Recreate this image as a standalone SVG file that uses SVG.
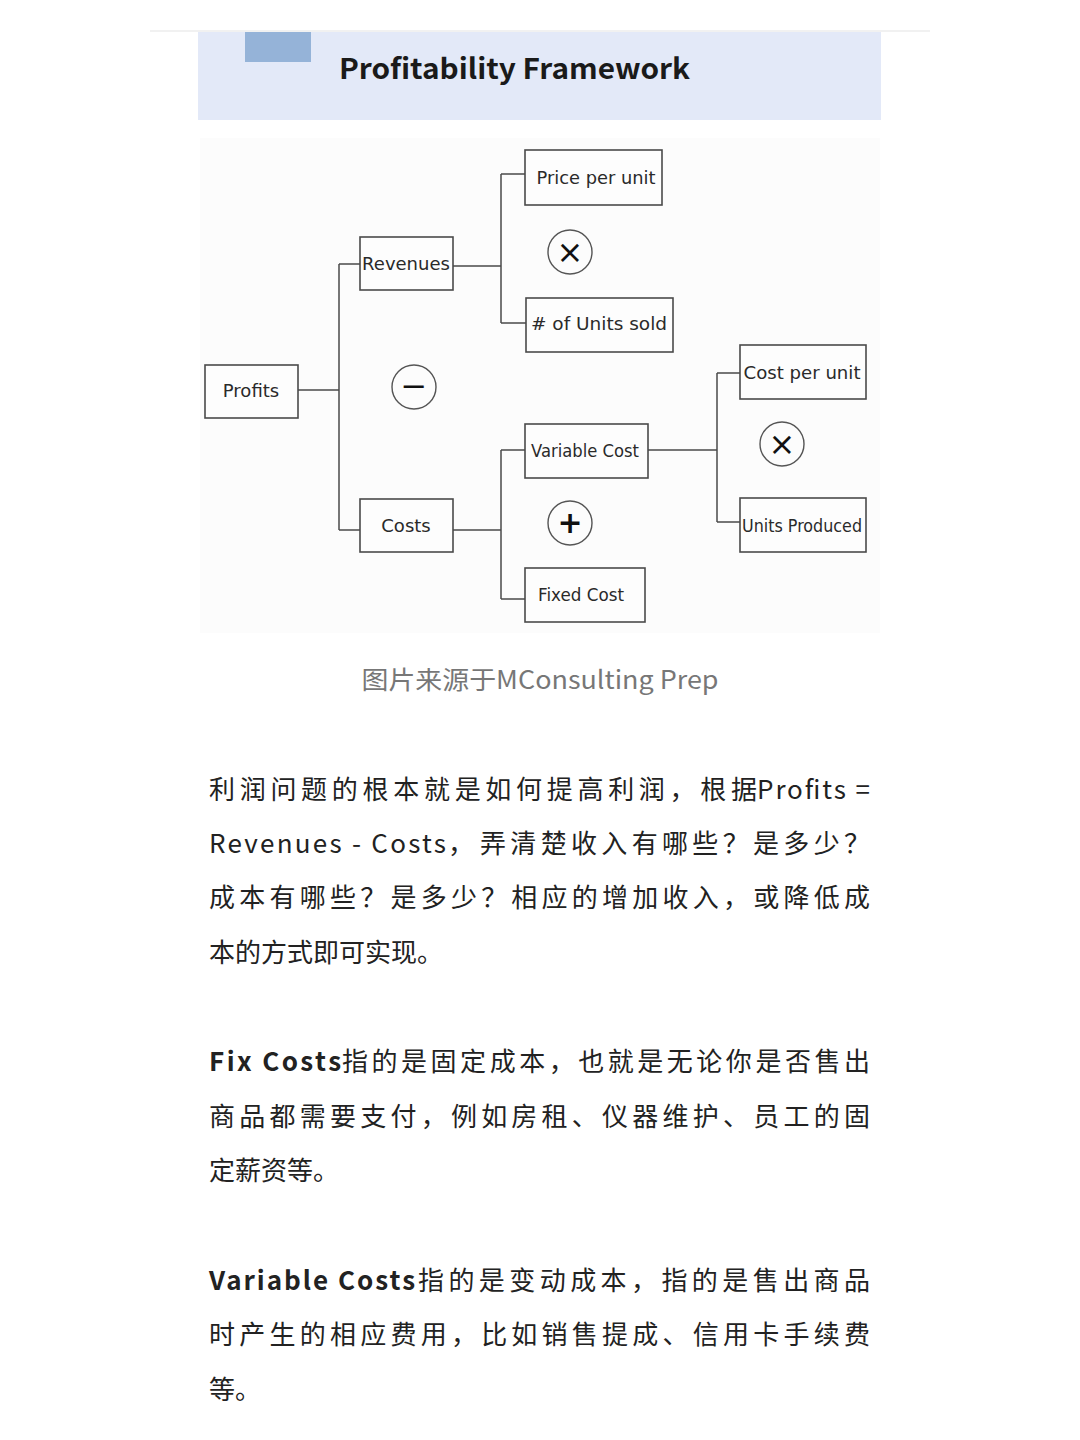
<svg xmlns="http://www.w3.org/2000/svg" width="1080" height="1440" viewBox="0 0 1080 1440">
<style>
.box{fill:#fdfdfd;stroke:#4a4a4a;stroke-width:1.6}
.lbl{font-family:"DejaVu Sans","Liberation Sans",sans-serif;font-size:18px;fill:#2a2a2a;text-anchor:middle;dominant-baseline:central}
.op{fill:none;stroke:#555;stroke-width:1.4}
.opt{font-family:"DejaVu Sans",sans-serif;fill:#111;text-anchor:middle;dominant-baseline:central}
.conn{fill:none;stroke:#4a4a4a;stroke-width:1.5}
.body{font-family:"Noto Sans CJK SC","Noto Sans",sans-serif;font-size:26px;fill:#222}
.b{font-weight:700}
.title{font-family:"Noto Sans CJK SC","Noto Sans",sans-serif;font-size:28px;font-weight:700;fill:#1a1a1a}
.cap{font-family:"Noto Sans CJK SC","Noto Sans",sans-serif;font-size:25px;fill:#777;text-anchor:middle}
</style>
<rect width="1080" height="1440" fill="#ffffff"/>
<g id="header">
<line x1="150" y1="31" x2="930" y2="31" stroke="#ececec" stroke-width="1.5"/>
<rect x="198" y="32" width="683" height="88" fill="#e3e9f8"/>
<rect x="245" y="32" width="66" height="30" fill="#95b3d8"/>
<text class="title" x="339" y="79" textLength="351" lengthAdjust="spacingAndGlyphs">Profitability Framework</text>
</g>
<rect id="diagram-bg" x="200" y="138" width="680" height="495" fill="#fcfcfc"/>
<g id="connectors">
<path class="conn" d="M298 390 H339 M339 264 V530 M339 264 H360 M339 530 H360"/>
<path class="conn" d="M453 266 H501 M501 174 V323 M501 174 H525 M501 323 H526"/>
<path class="conn" d="M453 530 H501 M501 450 V599 M501 450 H525 M501 599 H525"/>
<path class="conn" d="M648 450 H717 M717 373 V522 M717 373 H740 M717 522 H740"/>
</g>
<g id="node-profits"><rect class="box" x="205" y="365" width="93" height="53"/><text class="lbl" x="251" y="390">Profits</text></g>
<g id="node-revenues"><rect class="box" x="360" y="237" width="93" height="53"/><text class="lbl" x="406" y="263">Revenues</text></g>
<g id="node-costs"><rect class="box" x="360" y="499" width="93" height="53"/><text class="lbl" x="406" y="525">Costs</text></g>
<g id="node-price"><rect class="box" x="525" y="150" width="137" height="55"/><text class="lbl" x="596" y="177" textLength="119" lengthAdjust="spacingAndGlyphs">Price per unit</text></g>
<g id="node-units-sold"><rect class="box" x="526" y="298" width="147" height="54"/><text class="lbl" x="599" y="323" textLength="136" lengthAdjust="spacingAndGlyphs"># of Units sold</text></g>
<g id="node-variable"><rect class="box" x="525" y="424" width="123" height="54"/><text class="lbl" x="585" y="450" textLength="108" lengthAdjust="spacingAndGlyphs">Variable Cost</text></g>
<g id="node-fixed"><rect class="box" x="525" y="568" width="120" height="54"/><text class="lbl" x="581" y="594" textLength="86" lengthAdjust="spacingAndGlyphs">Fixed Cost</text></g>
<g id="node-cost-per-unit"><rect class="box" x="740" y="345" width="126" height="54"/><text class="lbl" x="802" y="372" textLength="117" lengthAdjust="spacingAndGlyphs">Cost per unit</text></g>
<g id="node-units-produced"><rect class="box" x="740" y="498" width="126" height="54"/><text class="lbl" x="802" y="525" textLength="120" lengthAdjust="spacingAndGlyphs">Units Produced</text></g>
<g id="op-times-1"><circle class="op" cx="570" cy="252" r="22"/><text class="opt" x="570" y="252" font-size="32">×</text></g>
<g id="op-minus"><circle class="op" cx="414" cy="387" r="22"/><text class="opt" x="414" y="386" font-size="32">−</text></g>
<g id="op-plus"><circle class="op" cx="570" cy="523" r="22"/><text class="opt" x="570" y="522" font-size="30" font-weight="700">+</text></g>
<g id="op-times-2"><circle class="op" cx="782" cy="444" r="22"/><text class="opt" x="782" y="444" font-size="32">×</text></g>
<text class="cap" x="540" y="689" textLength="357" lengthAdjust="spacingAndGlyphs">图片来源于MConsulting Prep</text>
<g id="paragraph-1" class="body">
<text x="209" y="799" textLength="548" lengthAdjust="spacing">利润问题的根本就是如何提高利润，根据</text>
<text x="757" y="799" textLength="113" lengthAdjust="spacing">Profits =</text>
<text x="209" y="853" textLength="237" lengthAdjust="spacing">Revenues - Costs</text>
<text x="448" y="853">，</text>
<text x="480" y="853" textLength="390" lengthAdjust="spacing">弄清楚收入有哪些？是多少？</text>
<text x="209" y="907" textLength="661" lengthAdjust="spacing">成本有哪些？是多少？相应的增加收入，或降低成</text>
<text x="209" y="962">本的方式即可实现。</text>
</g>
<g id="paragraph-2" class="body">
<text x="209" y="1071" class="b" textLength="132" lengthAdjust="spacing">Fix Costs</text>
<text x="342" y="1071" textLength="528" lengthAdjust="spacing">指的是固定成本，也就是无论你是否售出</text>
<text x="209" y="1126" textLength="661" lengthAdjust="spacing">商品都需要支付，例如房租、仪器维护、员工的固</text>
<text x="209" y="1180">定薪资等。</text>
</g>
<g id="paragraph-3" class="body">
<text x="209" y="1290" class="b" textLength="206" lengthAdjust="spacing">Variable Costs</text>
<text x="418" y="1290" textLength="452" lengthAdjust="spacing">指的是变动成本，指的是售出商品</text>
<text x="209" y="1344" textLength="661" lengthAdjust="spacing">时产生的相应费用，比如销售提成、信用卡手续费</text>
<text x="209" y="1399">等。</text>
</g>
</svg>
